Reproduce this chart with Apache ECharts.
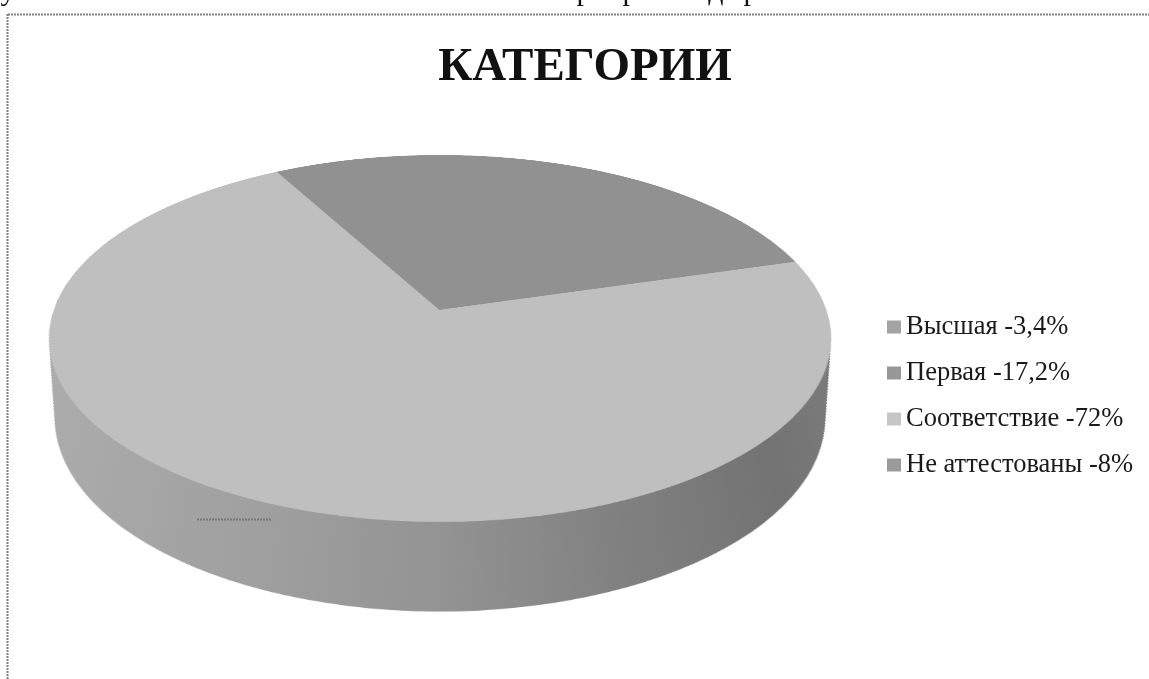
<!DOCTYPE html>
<html>
<head>
<meta charset="utf-8">
<title>Категории</title>
<script src="https://cdn.jsdelivr.net/npm/echarts@6/dist/echarts.min.js"></script>
<style>
html, body { margin: 0; padding: 0; background: #fff; overflow: hidden; width: 1149px; height: 679px; }
/* the pie lies on a tilted plane, apex of the slices ends up at 440,310 */
#pie {
    position: absolute; left: 40px; top: -90px; width: 800px; height: 950px;
    transform-origin: 400px 400px;
    transform: perspective(2207px) rotateX(62.4deg);
}
#texts { position: absolute; left: 0; top: 0; width: 1149px; height: 679px; }
</style>
</head>
<body>
<div id="pie"></div>
<div id="texts"></div>
<script>
var categories = ['Высшая -3,4%', 'Первая -17,2%', 'Соответствие -72%', 'Не аттестованы -8%'];
var values = [3.4, 17.2, 72, 8];
var topColors = ['#919191', '#919191', '#bfbfbf', '#919191'];
var legendColors = ['#a3a3a3', '#989898', '#c6c6c6', '#9a9a9a'];

// side wall of the disc: stack of pies going down the plane
var wallLayers = 80;
var wallShift = 160;
var wallRadiusBottom = 356;
var topRadius = 386;

var wallColor = new echarts.graphic.LinearGradient(14, 0, 786, 0, [
    { offset: 0, color: '#adadad' },
    { offset: 0.3, color: '#a0a0a0' },
    { offset: 0.5, color: '#939393' },
    { offset: 0.7, color: '#808080' },
    { offset: 0.88, color: '#737373' },
    { offset: 1, color: '#7d7d7d' }
], true);

function pieData(color) {
    return categories.map(function (name, i) {
        var c = color || topColors[i];
        return { name: name, value: values[i], itemStyle: { color: c, borderColor: c, borderWidth: color ? 0 : 1 } };
    });
}

function pieLayer(centerY, radius, color) {
    return {
        type: 'pie',
        center: [400, centerY],
        radius: radius,
        startAngle: 90,
        clockwise: true,
        silent: true,
        animation: false,
        label: { show: false },
        labelLine: { show: false },
        data: pieData(color)
    };
}

var pieSeries = [];
for (var i = wallLayers; i > 0; i--) {
    var t = i / wallLayers;
    pieSeries.push(pieLayer(400 + wallShift * t, topRadius + (wallRadiusBottom - topRadius) * t, wallColor));
}
pieSeries.push(pieLayer(400, topRadius));

var pieChart = echarts.init(document.getElementById('pie'));
pieChart.setOption({ series: pieSeries });

// tails of the line of text above the frame, cut by the page edge
function cutLetter(letter, x) {
    return {
        type: 'text', x: x, y: -23, silent: true,
        style: { text: letter, fill: '#111', font: '30px "Liberation Serif"', align: 'center' }
    };
}

var textChart = echarts.init(document.getElementById('texts'));
textChart.setOption({
    title: {
        text: 'КАТЕГОРИИ',
        left: 580,
        top: 39,
        textAlign: 'center',
        textStyle: { fontFamily: 'Liberation Serif', fontSize: 47, fontWeight: 'bold', color: '#111' }
    },
    legend: {
        orient: 'vertical',
        left: 882,
        top: 308.5,
        icon: 'rect',
        itemWidth: 14,
        itemHeight: 13,
        itemGap: 19,
        selectedMode: false,
        textStyle: { fontFamily: 'Liberation Serif', fontSize: 26.5, color: '#1a1a1a' },
        data: categories
    },
    series: [{
        // only feeds the legend, the disc itself is in #pie
        type: 'pie',
        radius: 0,
        center: [440, 310],
        silent: true,
        animation: false,
        label: { show: false },
        labelLine: { show: false },
        data: categories.map(function (name, i) {
            return { name: name, value: values[i], itemStyle: { color: legendColors[i] } };
        })
    }],
    graphic: [
        { type: 'line', shape: { x1: 8, y1: 14.5, x2: 1149, y2: 14.5 }, style: { stroke: '#808080', lineWidth: 2, lineDash: [2, 1] }, silent: true },
        { type: 'line', shape: { x1: 7.5, y1: 14, x2: 7.5, y2: 679 }, style: { stroke: '#808080', lineWidth: 2, lineDash: [2, 1] }, silent: true },
        { type: 'line', shape: { x1: 197, y1: 519.5, x2: 271, y2: 519.5 }, style: { stroke: '#777', lineWidth: 2, lineDash: [2, 1] }, silent: true },
        cutLetter('у', 8),
        cutLetter('р', 584),
        cutLetter('р', 630),
        cutLetter('д', 716),
        cutLetter('р', 751)
    ]
});
</script>
</body>
</html>
